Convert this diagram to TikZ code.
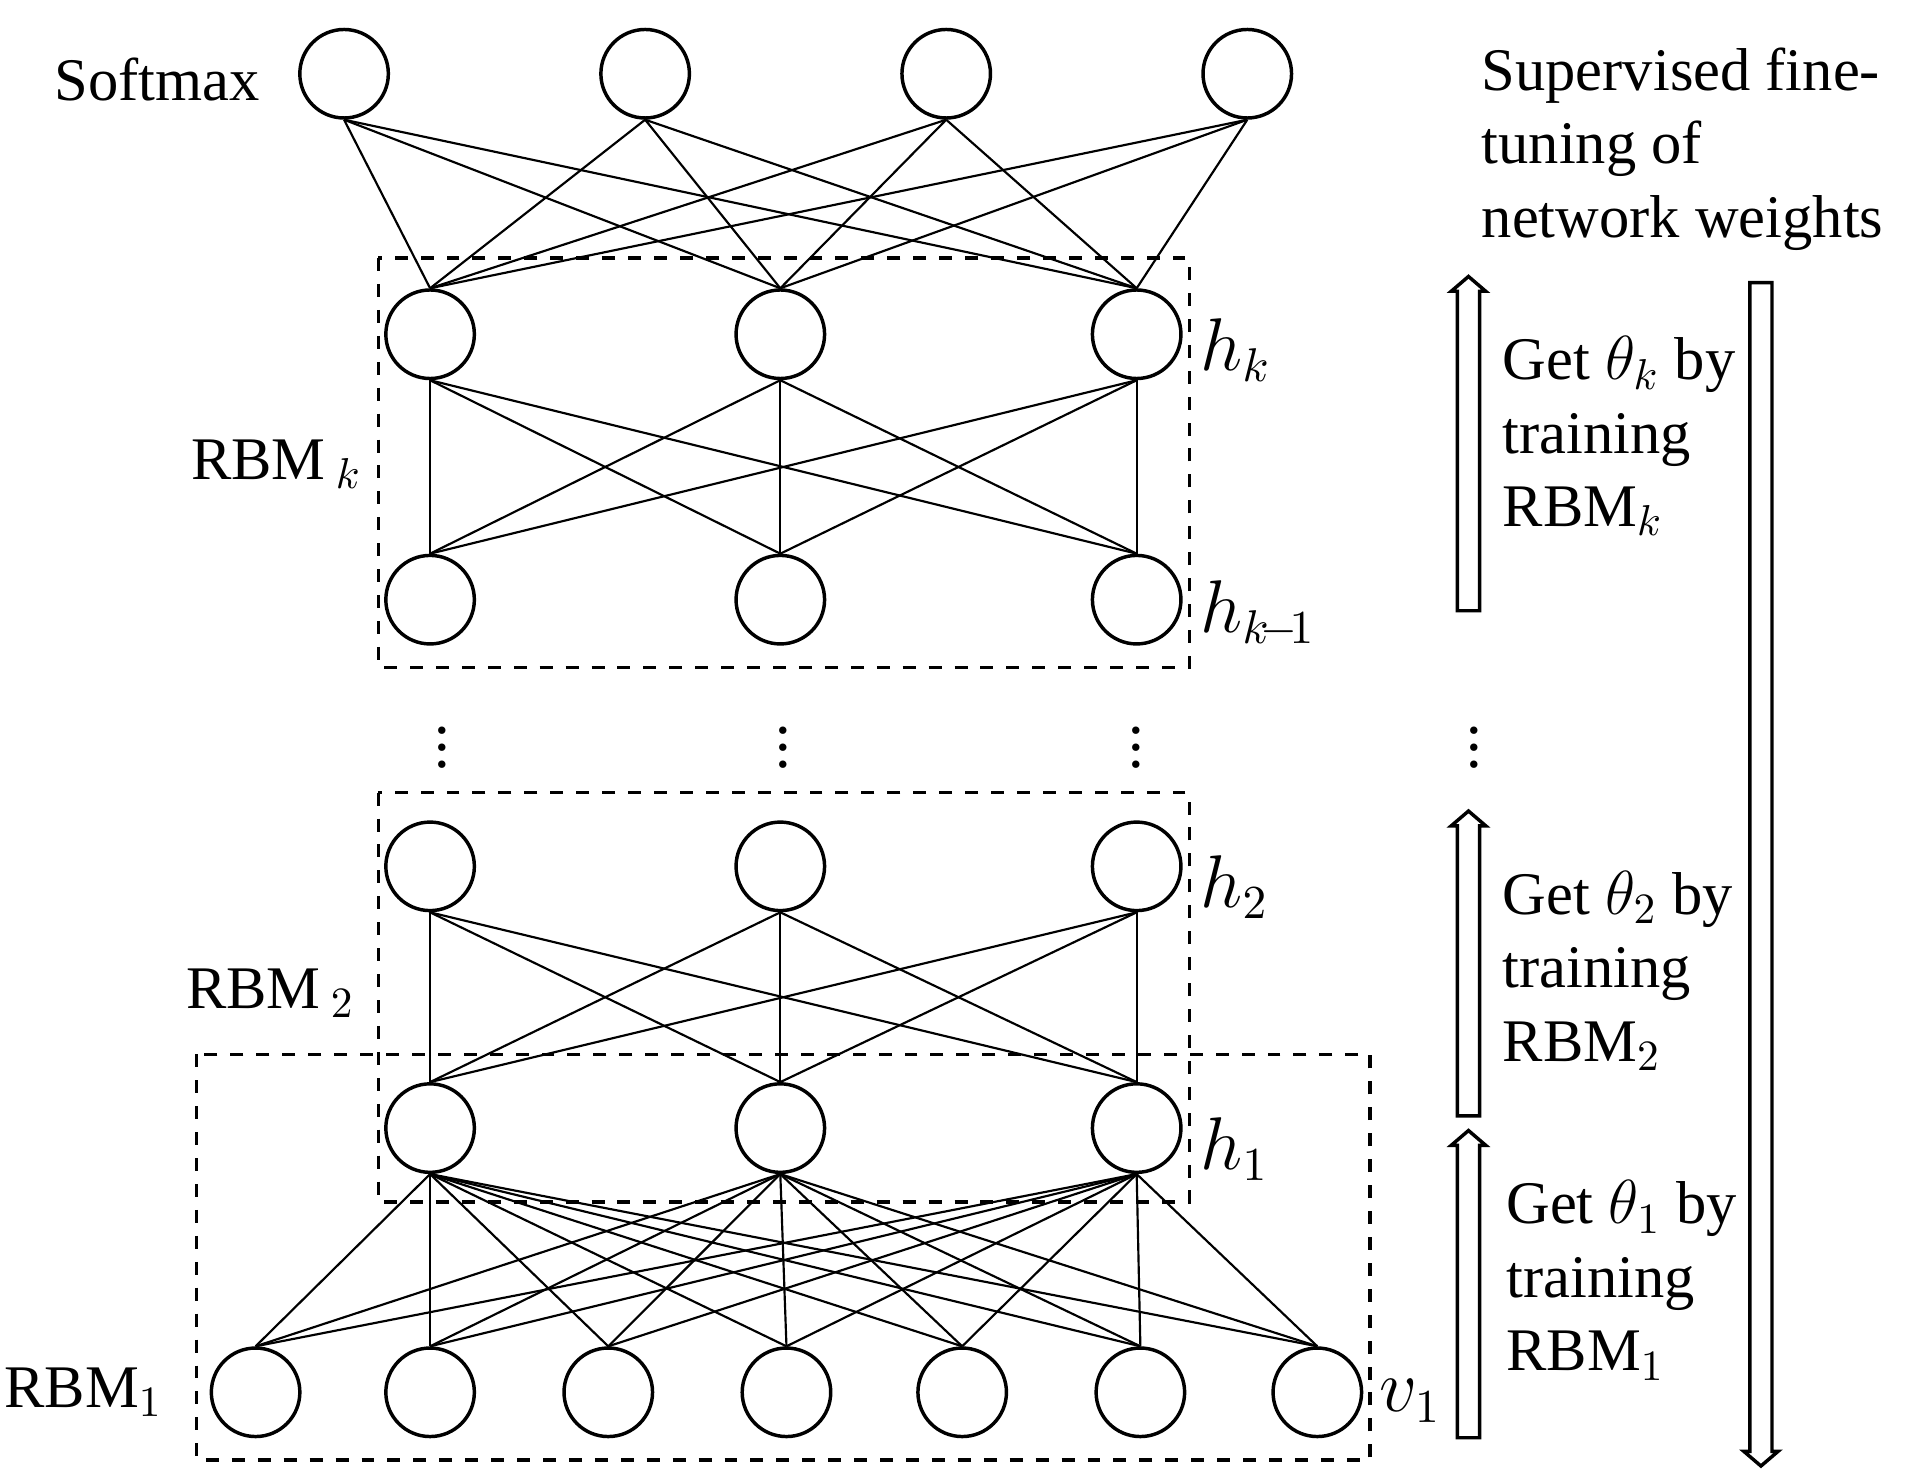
\documentclass[tikz,border=0pt]{standalone}
\usepackage{fontspec}
\setmainfont{Liberation Serif}
\usetikzlibrary{positioning}
\tikzset{
  unit/.style={circle, draw, thick, minimum size=0.72cm, inner sep=0pt},
  box/.style={dashed, thick},
  hollow/.style={draw, thick, fill=white},
  txt/.style={font=\fontsize{14}{17}\selectfont, align=left, inner sep=0pt},
  lab/.style={font=\fontsize{16}{19}\selectfont, inner sep=0pt}
}
\begin{document}
\begin{tikzpicture}[x=0.01cm, y=-0.01cm, line width=0.5pt]
\useasboundingbox (0,0) rectangle (1560,1203);
% layers of units
\foreach \x [count=\i] in {280,525,770,1015} {
    \node[unit] (s\i) at (\x,60) {};
}
\foreach \x [count=\i] in {350,635,925} {
    \node[unit] (k\i) at (\x,272) {};
    \node[unit] (m\i) at (\x,488) {};
    \node[unit] (a\i) at (\x,705) {};
    \node[unit] (b\i) at (\x,918) {};
}
\foreach \x [count=\i] in {208,350,495,640,783,928,1072} {
    \node[unit] (v\i) at (\x,1133) {};
}
% weights
\foreach \i in {1,...,4} {
  \foreach \j in {1,2,3} {
    \draw (s\i.south) -- (k\j.north);
  }
}
\foreach \i in {1,2,3} {
  \foreach \j in {1,2,3} {
    \draw (k\i.south) -- (m\j.north);
    \draw (a\i.south) -- (b\j.north);
  }
  \foreach \j in {1,...,7} {
    \draw (b\i.south) -- (v\j.north);
  }
}
% dashed RBM boxes
\draw[box] (308,210) rectangle (968,543);
\draw[box] (308,645) rectangle (968,978);
\draw[box] (160,858) rectangle (1115,1188);
% dots between layers
\foreach \x in {360,637,925,1200} {
    \node[font=\Large, inner sep=0pt] (d\x) at (\x,598) {$\vdots$};
}
% labels
\node[txt] (lsm) at (128,65) {Softmax};
\node[txt] (lrk) at (225,378) {RBM\,$_{k}$};
\node[txt] (lr2) at (220,808) {RBM\,$_{2}$};
\node[txt] (lr1) at (68,1133) {RBM$_{1}$};
\node[lab, anchor=west] (lhk) at (976,285) {$h_k$};
\node[lab, anchor=west] (lhm) at (976,500) {$h_{k\!-\!1}$};
\node[lab, anchor=west] (lh2) at (976,722) {$h_2$};
\node[lab, anchor=west] (lh1) at (976,935) {$h_1$};
\node[lab, anchor=west] (lv1) at (1122,1140) {$v_1$};
% training arrows
\draw[hollow] (1186,497) -- (1186,237) -- (1181,237) -- (1195,225) -- (1209,237) -- (1204,237) -- (1204,497) -- cycle;
\draw[hollow] (1186,908) -- (1186,672) -- (1181,672) -- (1195,660) -- (1209,672) -- (1204,672) -- (1204,908) -- cycle;
\draw[hollow] (1186,1170) -- (1186,932) -- (1181,932) -- (1195,920) -- (1209,932) -- (1204,932) -- (1204,1170) -- cycle;
\draw[hollow] (1424,230) -- (1424,1181) -- (1419,1181) -- (1433,1193) -- (1447,1181) -- (1442,1181) -- (1442,230) -- cycle;
\node[txt, anchor=north west] (t1) at (1205,38) {Supervised fine-\\tuning of\\network weights};
\node[txt, anchor=west] (t2) at (1222,355) {Get $\theta_{k}$ by\\training\\RBM$_{k}$};
\node[txt, anchor=west] (t3) at (1222,790) {Get $\theta_{2}$ by\\training\\RBM$_{2}$};
\node[txt, anchor=west] (t4) at (1225,1042) {Get $\theta_{1}$ by\\training\\RBM$_{1}$};
\end{tikzpicture}
\end{document}
